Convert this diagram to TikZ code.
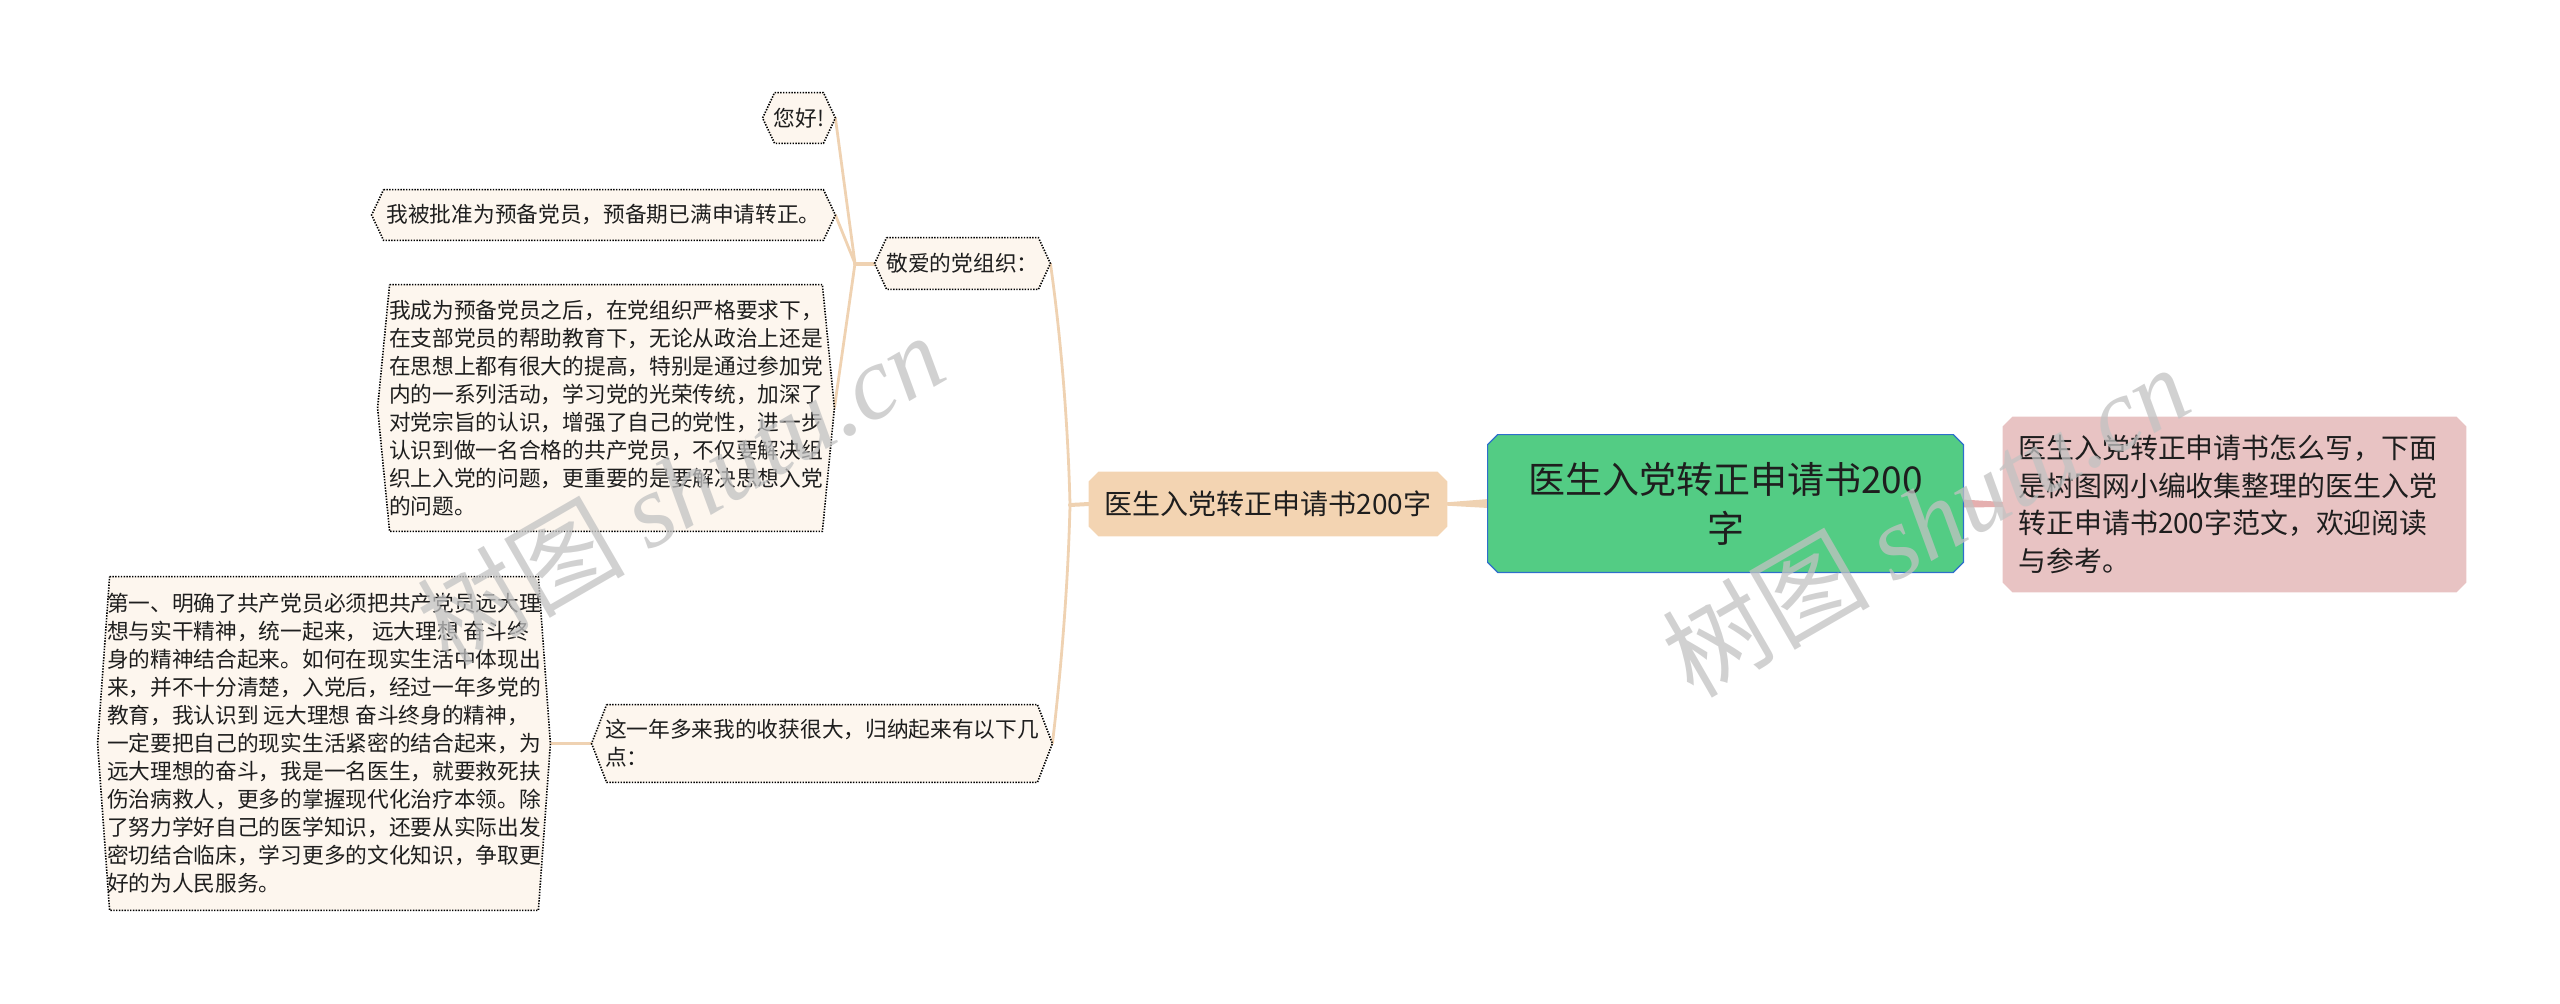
\documentclass[tikz,border=0pt]{standalone}
\usepackage{fontspec}
\setmainfont{Noto Sans CJK SC}
\newfontfamily\wmserif{Liberation Serif}
\usetikzlibrary{calc,backgrounds}
\definecolor{tanline}{HTML}{EFD2B2}
\definecolor{childfill}{HTML}{FDF6EE}
\definecolor{mainfill}{HTML}{F3D4B2}
\definecolor{rootfill}{HTML}{53CC84}
\definecolor{rootborder}{HTML}{2E6FCB}
\definecolor{rightfill}{HTML}{E8C3C3}
\definecolor{pinkline}{HTML}{E5AFAF}
\definecolor{wmgray}{HTML}{C2C2C2}
\definecolor{txt}{HTML}{1E1E1E}
\newcommand{\hexa}[2]{%
  \path[childshape] ($(#1.north west)+(#2,0)$) -- ($(#1.north east)+(-#2,0)$) -- (#1.east)
    -- ($(#1.south east)+(-#2,0)$) -- ($(#1.south west)+(#2,0)$) -- (#1.west) -- cycle;}
\newcommand{\octo}[3]{%
  \path[#1] ($(#2.north west)+(#3,0)$) -- ($(#2.north east)+(-#3,0)$) -- ($(#2.north east)+(0,#3)$)
    -- ($(#2.south east)+(0,-#3)$) -- ($(#2.south east)+(-#3,0)$) -- ($(#2.south west)+(#3,0)$)
    -- ($(#2.south west)+(0,-#3)$) -- ($(#2.north west)+(0,#3)$) -- cycle;}
\begin{document}
\begin{tikzpicture}[x=0.5pt,y=-0.5pt,
  box/.style={inner sep=0pt, text=txt, align=left},
  child/.style={box, font=\fontsize{10.85pt}{14pt}\selectfont},
  childshape/.style={fill=childfill, draw=black, line width=0.8pt, dash pattern=on 0.7pt off 0.7pt},
  conn/.style={draw=tanline, line width=1.4pt, line cap=round, line join=round},
  wm/.style={font=\fontsize{52pt}{52pt}\selectfont, text=wmgray, text opacity=0.75, inner sep=0pt}]
\useasboundingbox (0,0) rectangle (2560,1003);

% root and first level
\node[box, align=center, minimum width=237.5pt, minimum height=68.5pt,
  font=\fontsize{18.5pt}{24.5pt}\selectfont] (root) at (1725.5,503.5) {医生入党转正申请书200\\字};
\node[box, minimum width=231.5pt, minimum height=87.5pt, text width=216pt,
  font=\fontsize{13.95pt}{18.85pt}\selectfont] (right) at (2234.5,504.5)
  {医生入党转正申请书怎么写，下面\\是树图网小编收集整理的医生入党\\转正申请书200字范文，欢迎阅读\\与参考。};
\node[box, align=center, minimum width=179pt, minimum height=32pt,
  font=\fontsize{14pt}{18pt}\selectfont] (main) at (1268,504) {医生入党转正申请书200字};

% second level
\node[child, minimum width=87.5pt, minimum height=25.5pt] (jingai) at (962.5,263.5) {敬爱的党组织：};
\node[child, minimum width=230pt, minimum height=38.5pt] (zhe) at (822,743.5)
  {这一年多来我的收获很大，归纳起来有以下几\\点：};

% third level
\node[child, align=center, minimum width=36pt, minimum height=25pt] (nihao) at (799,118) {您好!};
\node[child, minimum width=231.5pt, minimum height=25pt] (wobei) at (603.5,215)
  {我被批准为预备党员，预备期已满申请转正。};
\node[child, minimum width=228pt, minimum height=123pt] (para1) at (606,408)
  {我成为预备党员之后，在党组织严格要求下，\\在支部党员的帮助教育下，无论从政治上还是\\在思想上都有很大的提高，特别是通过参加党\\内的一系列活动，学习党的光荣传统，加深了\\对党宗旨的认识，增强了自己的党性，进一步\\认识到做一名合格的共产党员，不仅要解决组\\织上入党的问题，更重要的是要解决思想入党\\的问题。};
\node[child, minimum width=226pt, minimum height=166.5pt] (para2) at (324,743.5)
  {第一、明确了共产党员必须把共产党员远大理\\想与实干精神，统一起来， 远大理想 奋斗终\\身的精神结合起来。如何在现实生活中体现出\\来，并不十分清楚，入党后，经过一年多党的\\教育，我认识到 远大理想 奋斗终身的精神，\\一定要把自己的现实生活紧密的结合起来，为\\远大理想的奋斗，我是一名医生，就要救死扶\\伤治病救人，更多的掌握现代化治疗本领。除\\了努力学好自己的医学知识，还要从实际出发\\密切结合临床，学习更多的文化知识，争取更\\好的为人民服务。};

\coordinate (j1) at (1070,505);
\coordinate (j2) at (855,263.5);

\begin{scope}[on background layer]
  % connectors
  \fill[tanline] ($(main.east)+(-2,-1.6)$) -- ($(root.west)+(1,-4.5)$) -- ($(root.west)+(1,4.5)$) -- ($(main.east)+(-2,1.6)$) -- cycle;
  \fill[pinkline] ($(root.east)+(-1,-4)$) -- ($(right.west)+(1,-2.5)$) -- ($(right.west)+(1,2.5)$) -- ($(root.east)+(-1,4)$) -- cycle;
  \draw[conn, line width=2pt] (main.west) -- (j1);
  \draw[conn] (j1) .. controls (1068,420) and (1060,330) .. (jingai.east);
  \draw[conn] (j1) .. controls (1068,590) and (1060,680) .. (zhe.east);
  \draw[conn, line width=2pt] (jingai.west) -- (j2);
  \draw[conn] (j2) -- (nihao.east);
  \draw[conn] (j2) -- (wobei.east);
  \draw[conn] (j2) -- (para1.east);
  \draw[conn] (zhe.west) -- (para2.east);
  % shapes
  \octo{fill=rootfill, draw=rootborder, line width=0.6pt}{root}{10}
  \octo{fill=rightfill}{right}{10}
  \octo{fill=mainfill}{main}{10}
  \hexa{jingai}{12}
  \hexa{zhe}{15}
  \hexa{nihao}{12}
  \hexa{wobei}{12}
  \hexa{para1}{12}
  \hexa{para2}{12}
\end{scope}

% watermarks
\node[wm, rotate=30] (wm1) at (680,488) {树图 {\wmserif\itshape shutu.cn}};
\node[wm, rotate=30] (wm2) at (1925,520) {树图 {\wmserif\itshape shutu.cn}};
\end{tikzpicture}
\end{document}
